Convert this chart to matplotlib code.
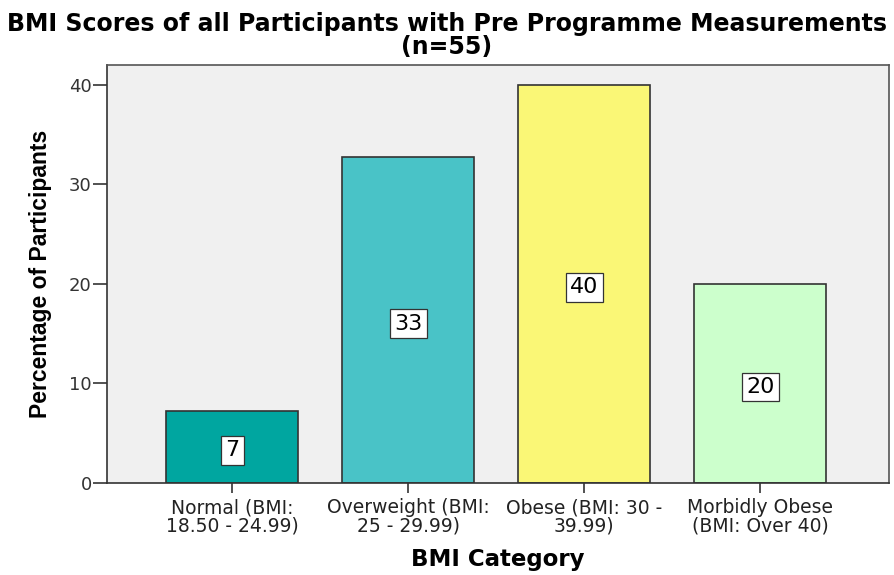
import matplotlib
matplotlib.use("Agg")
import matplotlib.pyplot as plt

# BMI categories of participants with pre-programme measurements (n=55)
categories = [
    "Normal (BMI:\n18.50 - 24.99)",
    "Overweight (BMI:\n25 - 29.99)",
    "Obese (BMI: 30 -\n39.99)",
    "Morbidly Obese\n(BMI: Over 40)",
]
percentages = [7.27, 32.73, 40.0, 20.0]
bar_colors = ["#00A6A0", "#49C3C7", "#FAF776", "#CCFFCC"]
y_ticks = [0, 10, 20, 30, 40]

plt.rcParams["font.family"] = ["DejaVu Sans"]

fig = plt.figure(figsize=(8.94, 5.75), dpi=100)
ax = fig.add_axes([107 / 894, 1 - 483 / 575, (889 - 107) / 894, (483 - 65) / 575])
ax.set_facecolor("#F0F0F0")

x = list(range(len(categories)))
ax.bar(x, percentages, width=0.75, color=bar_colors,
       edgecolor="#333333", linewidth=1.2, zorder=2)

for xi, v in zip(x, percentages):
    ax.annotate(f"{v:.0f}", xy=(xi, v / 2), xytext=(0, -2.5),
                textcoords="offset points", ha="center", va="center",
                fontsize=16, color="black", zorder=3,
                bbox=dict(boxstyle="square,pad=0.2", facecolor="white",
                          edgecolor="#333333", linewidth=0.9))

ax.set_xlim(-0.71, 3.73)
ax.set_ylim(0, 42.0)
ax.set_yticks(y_ticks)
ax.set_xticks(x)
ax.set_xticklabels(categories, fontsize=13.5, color="#222222", linespacing=0.95)
ax.tick_params(axis="y", labelsize=13, labelcolor="#333333", length=10,
               width=1.2, color="#333333", pad=1)
ax.tick_params(axis="x", length=7, width=1.2, color="#333333", pad=4)
for s in ax.spines.values():
    s.set_color("#555555")
    s.set_linewidth(1.2)
ax.spines["left"].set_color("#333333")
ax.spines["bottom"].set_color("#333333")

ax.set_xlabel("BMI Category", fontsize=16.5, fontweight="bold", labelpad=9)
ax.set_ylabel("Percentage of Participants", fontsize=16.5, fontweight="bold",
              family=["Liberation Sans", "DejaVu Sans"], labelpad=12)
fig.text(0.5, 1 - 24 / 575, "BMI Scores of all Participants with Pre Programme Measurements",
         ha="center", va="center", fontsize=17, fontweight="bold")
fig.text(0.5, 1 - 47 / 575, "(n=55)", ha="center", va="center", fontsize=17,
         fontweight="bold")

fig.savefig("out.png", dpi=100)
